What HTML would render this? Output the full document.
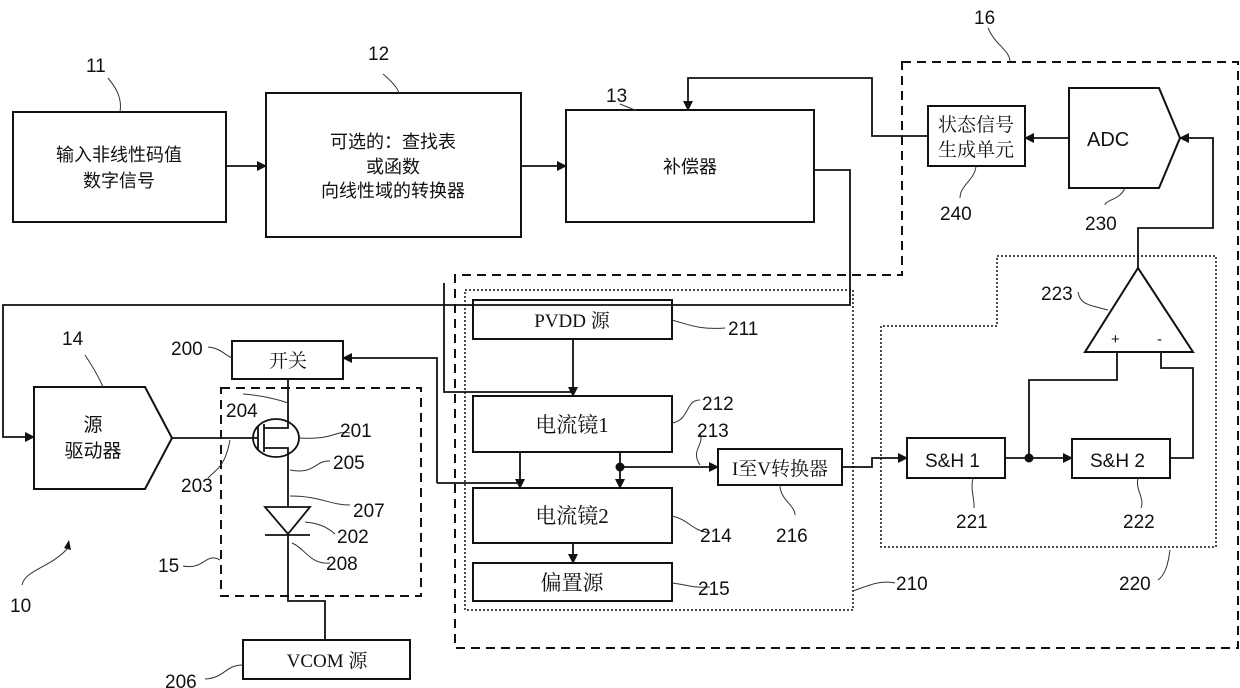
<!DOCTYPE html>
<html><head><meta charset="utf-8"><style>
html,body{margin:0;padding:0;background:#fff}
svg{display:block}
text{font-family:"Liberation Sans","Noto Sans CJK SC",sans-serif;fill:#111}
.s{font-family:"Liberation Serif","Noto Serif CJK SC","Noto Sans CJK SC",serif}
</style></head><body>
<svg width="1240" height="688" viewBox="0 0 1240 688" xmlns="http://www.w3.org/2000/svg">
<defs><marker id="a" markerWidth="10" markerHeight="10" refX="9" refY="5" orient="auto" markerUnits="userSpaceOnUse"><path d="M0,0 L10,5 L0,10 z" fill="#111"/></marker></defs>
<g fill="none" stroke="#111" stroke-width="2">
<path d="M902,62 H1238 V648 H455 V275 H902 Z" stroke-dasharray="9,6"/>
<path d="M221,388 H421 V596 H221 Z" stroke-dasharray="9,6"/>
<path d="M465,290 H853 V610 H465 Z" stroke-dasharray="2,2" stroke-width="1.5"/>
<path d="M997,256 H1216 V547 H881 V326 H997 Z" stroke-dasharray="2,2" stroke-width="1.5"/>
<rect x="13" y="112" width="213" height="110"/>
<rect x="266" y="93" width="255" height="144"/>
<rect x="566" y="110" width="248" height="112"/>
<rect x="928" y="106" width="97" height="60"/>
<path d="M1069,88 H1159 L1180,138 L1159,188 H1069 Z"/>
<path d="M34,387 H145 L172,438 L145,489 H34 Z"/>
<rect x="232" y="341" width="111" height="38"/>
<rect x="243" y="640" width="167" height="39"/>
<rect x="473" y="300" width="199" height="39"/>
<rect x="473" y="396" width="199" height="56"/>
<rect x="473" y="488" width="199" height="55"/>
<rect x="473" y="563" width="199" height="38"/>
<rect x="718" y="449" width="124" height="36"/>
<rect x="907" y="438" width="98" height="40"/>
<rect x="1072" y="439" width="98" height="39"/>
<path d="M1138,268 L1193,352 H1085 Z"/>
</g>
<g fill="none" stroke="#111" stroke-width="1.8">
<path d="M226,166 H266" marker-end="url(#a)"/>
<path d="M521,166 H566" marker-end="url(#a)"/>
<path d="M928,136 H872 V78 H688 V110" marker-end="url(#a)"/>
<path d="M1069,138 H1025" marker-end="url(#a)"/>
<path d="M1138,268 V228 H1213 V138 H1180" marker-end="url(#a)"/>
<path d="M814,170 H850 V305 H3 V437 H34" marker-end="url(#a)"/>
<path d="M437,483 V358 H343" marker-end="url(#a)"/>
<path d="M437,483 H520"/>
<path d="M444,283 V392 H573"/>
<path d="M573,339 V396" marker-end="url(#a)"/>
<path d="M520,452 V488" marker-end="url(#a)"/>
<path d="M620,452 V488" marker-end="url(#a)"/>
<path d="M620,467 H718" marker-end="url(#a)"/>
<path d="M573,543 V563" marker-end="url(#a)"/>
<path d="M842,467 H872 V458 H907" marker-end="url(#a)"/>
<path d="M1005,458 H1072" marker-end="url(#a)"/>
<path d="M1117,352 V380 H1029 V458"/>
<path d="M1161,352 V368 H1193 V458 H1170"/>
<path d="M172,438 H258"/>
<ellipse cx="276" cy="438" rx="23" ry="19"/>
<path d="M258,426 V450 M264,424 V452 M264,428 H288 V379 M264,448 H288 V507 M288,534 V601 H325 V640"/>
<path d="M265,507 H310 L288,534 Z"/>
<path d="M265,535 H310"/>
</g>
<circle cx="620" cy="467" r="4.5" fill="#111"/>
<circle cx="1029" cy="458" r="4.5" fill="#111"/>
<g fill="none" stroke="#333" stroke-width="1">
<path d="M108,78 C118,90 122,100 120,112"/>
<path d="M383,74 C395,84 400,92 398,93"/>
<path d="M620,104 C630,108 634,110 636,110"/>
<path d="M988,28 C995,45 1010,50 1010,62"/>
<path d="M85,355 C95,370 100,380 103,387"/>
<path d="M208,347 C220,348 225,355 232,358"/>
<path d="M243,394 C260,395 280,400 288,403"/>
<path d="M350,433 C335,430 335,440 300,438"/>
<path d="M330,461 C315,460 315,475 290,470"/>
<path d="M208,478 C215,470 225,468 230,440"/>
<path d="M350,505 C330,505 320,496 290,496"/>
<path d="M335,534 C325,525 315,523 305,522"/>
<path d="M330,563 C310,565 305,548 292,543"/>
<path d="M183,566 C205,570 205,552 220,560"/>
<path d="M22,585 C25,570 50,568 68,548"/>
<path d="M205,679 C225,678 225,665 243,665"/>
<path d="M672,320 C690,325 700,330 725,328"/>
<path d="M672,423 C690,420 685,400 700,400"/>
<path d="M700,433 C705,445 690,450 700,465"/>
<path d="M672,516 C690,520 690,530 710,533"/>
<path d="M780,485 C780,500 795,505 795,515"/>
<path d="M672,583 C690,585 690,588 710,587"/>
<path d="M853,591 C870,585 880,580 895,583"/>
<path d="M973,478 C970,490 975,500 974,508"/>
<path d="M1138,478 C1135,490 1145,498 1141,508"/>
<path d="M1170,550 C1168,565 1165,575 1158,580"/>
<path d="M1078,292 C1080,305 1090,305 1108,310"/>
<path d="M976,166 C975,180 960,185 960,198"/>
<path d="M1125,188 C1120,200 1105,200 1105,205"/>
</g>
<path d="M64,548 L69,540 L71,550 Z" fill="#111"/>
<g font-size="19">
<text x="86" y="72">11</text>
<text x="368" y="60">12</text>
<text x="606" y="102">13</text>
<text x="974" y="24">16</text>
<text x="62" y="345">14</text>
<text x="171" y="355">200</text>
<text x="226" y="417">204</text>
<text x="340" y="437">201</text>
<text x="333" y="469">205</text>
<text x="181" y="492">203</text>
<text x="353" y="517">207</text>
<text x="337" y="543">202</text>
<text x="326" y="570">208</text>
<text x="158" y="572">15</text>
<text x="10" y="612">10</text>
<text x="165" y="688">206</text>
<text x="728" y="335">211</text>
<text x="702" y="410">212</text>
<text x="697" y="437">213</text>
<text x="700" y="542">214</text>
<text x="776" y="542">216</text>
<text x="698" y="595">215</text>
<text x="896" y="590">210</text>
<text x="956" y="528">221</text>
<text x="1123" y="528">222</text>
<text x="1119" y="590">220</text>
<text x="1041" y="300">223</text>
<text x="940" y="220">240</text>
<text x="1085" y="230">230</text>
<text x="1087" y="146" font-size="20">ADC</text>
<text x="925" y="467" font-size="19">S&amp;H 1</text>
<text x="1090" y="467" font-size="19">S&amp;H 2</text>
<text x="1111" y="344" font-size="15">+</text>
<text x="1157" y="344" font-size="15">-</text>
</g>
<g font-size="18">
<text x="119" y="161" text-anchor="middle">输入非线性码值</text>
<text x="119" y="187" text-anchor="middle">数字信号</text>
<text x="393" y="148" text-anchor="middle">可选的：查找表</text>
<text x="393" y="173" text-anchor="middle">或函数</text>
<text x="393" y="197" text-anchor="middle">向线性域的转换器</text>
<text x="690" y="173" text-anchor="middle">补偿器</text>
<text x="976" y="131" text-anchor="middle" class="s" font-size="19">状态信号</text>
<text x="976" y="156" text-anchor="middle" class="s" font-size="19">生成单元</text>
<text x="93" y="431" text-anchor="middle" font-size="19">源</text>
<text x="93" y="457" text-anchor="middle" font-size="19">驱动器</text>
<text x="288" y="367" text-anchor="middle" class="s" font-size="19">开关</text>
<text x="327" y="667" text-anchor="middle" class="s" font-size="19">VCOM 源</text>
<text x="572" y="327" text-anchor="middle" class="s" font-size="19">PVDD 源</text>
<text x="572" y="432" text-anchor="middle" class="s" font-size="21">电流镜1</text>
<text x="572" y="523" text-anchor="middle" class="s" font-size="21">电流镜2</text>
<text x="572" y="590" text-anchor="middle" class="s" font-size="21">偏置源</text>
<text x="780" y="475" text-anchor="middle" class="s" font-size="19">I至V转换器</text>
</g>
</svg>
</body></html>
